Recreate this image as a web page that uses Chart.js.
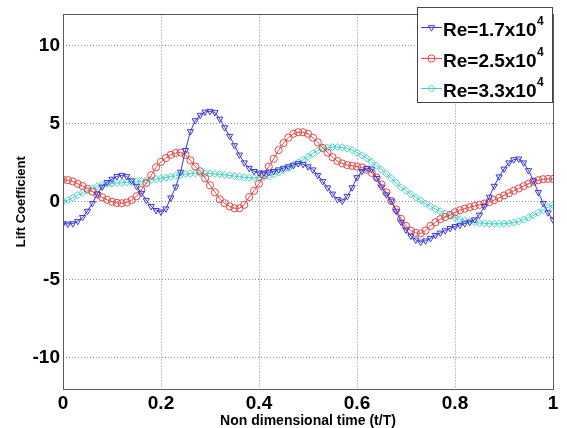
<!DOCTYPE html>
<html>
<head>
<meta charset="utf-8">
<script src="https://cdn.jsdelivr.net/npm/chart.js@4/dist/chart.umd.min.js"></script>
<style>
  html, body { margin: 0; padding: 0; background: #fff; }
  #wrap { width: 567px; height: 428px; }
</style>
</head>
<body>
<div id="wrap"><canvas id="liftChart" width="567" height="428"></canvas></div>
<script>
// non dimensional time t/T
const timeValues = [
  0.00, 0.01, 0.02, 0.03, 0.04, 0.05, 0.06, 0.07, 0.08, 0.09,
  0.10, 0.11, 0.12, 0.13, 0.14, 0.15, 0.16, 0.17, 0.18, 0.19,
  0.20, 0.21, 0.22, 0.23, 0.24, 0.25, 0.26, 0.27, 0.28, 0.29,
  0.30, 0.31, 0.32, 0.33, 0.34, 0.35, 0.36, 0.37, 0.38, 0.39,
  0.40, 0.41, 0.42, 0.43, 0.44, 0.45, 0.46, 0.47, 0.48, 0.49,
  0.50, 0.51, 0.52, 0.53, 0.54, 0.55, 0.56, 0.57, 0.58, 0.59,
  0.60, 0.61, 0.62, 0.63, 0.64, 0.65, 0.66, 0.67, 0.68, 0.69,
  0.70, 0.71, 0.72, 0.73, 0.74, 0.75, 0.76, 0.77, 0.78, 0.79,
  0.80, 0.81, 0.82, 0.83, 0.84, 0.85, 0.86, 0.87, 0.88, 0.89,
  0.90, 0.91, 0.92, 0.93, 0.94, 0.95, 0.96, 0.97, 0.98, 0.99,
  1.00
];

// lift coefficient, Re = 1.7x10^4
const liftRe17 = [
  -1.40, -1.42, -1.40, -1.25, -1.00, -0.60, -0.10, 0.50, 0.95, 1.25,
  1.45, 1.62, 1.70, 1.62, 1.35, 1.00, 0.55, 0.10, -0.30, -0.55,
  -0.65, -0.45, 0.25, 0.95, 1.90, 3.30, 4.50, 5.20, 5.55, 5.75,
  5.80, 5.72, 5.30, 4.75, 4.20, 3.60, 3.00, 2.50, 2.15, 1.95,
  1.85, 1.85, 1.90, 1.95, 2.05, 2.15, 2.25, 2.35, 2.45, 2.40,
  2.25, 2.05, 1.70, 1.30, 0.90, 0.50, 0.15, 0.05, 0.35, 0.90,
  1.55, 1.95, 2.15, 2.10, 1.50, 0.95, 0.45, 0.05, -0.60, -1.30,
  -1.80, -2.20, -2.45, -2.58, -2.50, -2.35, -2.15, -2.00, -1.85, -1.70,
  -1.58, -1.50, -1.40, -1.30, -1.15, -0.85, -0.30, 0.30, 1.00, 1.60,
  2.10, 2.50, 2.70, 2.75, 2.50, 2.00, 1.35, 0.60, -0.10, -0.70,
  -1.15
];

// lift coefficient, Re = 2.5x10^4
const liftRe25 = [
  1.40, 1.38, 1.30, 1.15, 1.00, 0.83, 0.65, 0.45, 0.28, 0.12,
  0.00, -0.08, -0.10, -0.05, 0.10, 0.35, 0.75, 1.20, 1.70, 2.20,
  2.55, 2.80, 3.00, 3.12, 3.15, 3.00, 2.65, 2.25, 1.95, 1.50,
  1.05, 0.60, 0.15, -0.10, -0.30, -0.42, -0.42, -0.20, 0.30, 0.70,
  1.15, 1.70, 2.25, 2.75, 3.30, 3.75, 4.10, 4.35, 4.45, 4.45,
  4.35, 4.10, 3.80, 3.45, 3.15, 2.85, 2.60, 2.45, 2.35, 2.30,
  2.25, 2.20, 2.05, 1.85, 1.55, 1.10, 0.60, 0.05, -0.50, -1.10,
  -1.55, -1.85, -2.00, -2.03, -1.85, -1.55, -1.32, -1.12, -0.98, -0.85,
  -0.68, -0.55, -0.45, -0.35, -0.28, -0.20, -0.12, -0.02, 0.10, 0.25,
  0.40, 0.55, 0.70, 0.85, 1.00, 1.15, 1.28, 1.38, 1.44, 1.46,
  1.46
];

// lift coefficient, Re = 3.3x10^4
const liftRe33 = [
  0.00, 0.10, 0.25, 0.42, 0.58, 0.72, 0.85, 0.97, 1.07, 1.13,
  1.17, 1.20, 1.22, 1.24, 1.26, 1.28, 1.31, 1.35, 1.40, 1.45,
  1.50, 1.55, 1.60, 1.66, 1.72, 1.77, 1.80, 1.82, 1.83, 1.82,
  1.80, 1.78, 1.76, 1.72, 1.68, 1.64, 1.60, 1.56, 1.53, 1.52,
  1.53, 1.57, 1.65, 1.75, 1.88, 2.02, 2.16, 2.32, 2.50, 2.68,
  2.88, 3.10, 3.28, 3.40, 3.46, 3.50, 3.50, 3.47, 3.40, 3.30,
  3.15, 2.98, 2.78, 2.55, 2.30, 2.05, 1.78, 1.50, 1.20, 0.92,
  0.70, 0.48, 0.28, 0.08, -0.12, -0.30, -0.46, -0.62, -0.76, -0.90,
  -1.02, -1.12, -1.20, -1.27, -1.32, -1.36, -1.39, -1.41, -1.42, -1.42,
  -1.41, -1.38, -1.33, -1.26, -1.15, -1.02, -0.87, -0.70, -0.52, -0.35,
  -0.20
];

const seriesNames = ['Re=1.7x10', 'Re=2.5x10', 'Re=3.3x10'];
const seriesExponent = '4';
const xTicks = [0, 0.2, 0.4, 0.6, 0.8, 1];
const yTicks = [-10, -5, 0, 5, 10];

const FONT = "'Liberation Sans', Arial, sans-serif";
const colors = ['#3a3ad4', '#e04848', '#46cfc6'];
const pointStyles = ['triangle', 'circle', 'rectRot'];
const pointRotations = [180, 0, 0];

function makeSeries(values) {
  return values.map((v, i) => ({ x: timeValues[i], y: v }));
}

const seriesValues = [liftRe17, liftRe25, liftRe33];

const datasets = seriesValues.map((vals, i) => ({
  label: seriesNames[i] + seriesExponent,
  data: makeSeries(vals),
  borderColor: colors[i],
  backgroundColor: 'rgba(0,0,0,0)',
  borderWidth: 1,
  pointStyle: pointStyles[i],
  pointRotation: pointRotations[i],
  pointRadius: 3.6,
  pointBorderWidth: 1,
  pointBorderColor: colors[i],
  pointBackgroundColor: 'rgba(0,0,0,0)',
  tension: 0
}));

// box round the plot and the matlab style legend
const framePlugin = {
  id: 'frameAndLegend',
  afterDraw(chart) {
    const ctx = chart.ctx;
    const a = chart.chartArea;
    ctx.save();
    ctx.strokeStyle = '#5a5a5a';
    ctx.lineWidth = 1;
    ctx.strokeRect(Math.round(a.left) + 0.5, Math.round(a.top) + 0.5,
      Math.round(a.right - a.left), Math.round(a.bottom - a.top));

    // legend
    const bx = 417.5, by = 7.5, bw = 135, bh = 95;
    ctx.fillStyle = '#fff';
    ctx.fillRect(bx, by, bw, bh);
    ctx.strokeStyle = '#444';
    ctx.strokeRect(bx, by, bw, bh);

    const rowY = [27, 58, 88];
    seriesNames.forEach((name, i) => {
      const y = rowY[i];
      ctx.strokeStyle = colors[i];
      ctx.lineWidth = 1;
      ctx.beginPath();
      ctx.moveTo(421, y + 0.5);
      ctx.lineTo(442, y + 0.5);
      ctx.stroke();
      ctx.fillStyle = 'rgba(0,0,0,0)';
      Chart.helpers.drawPoint(ctx, {
        pointStyle: pointStyles[i],
        radius: 3.6,
        rotation: pointRotations[i],
        borderWidth: 1
      }, 431.5, y + 0.5);

      ctx.fillStyle = '#000';
      ctx.textBaseline = 'alphabetic';
      ctx.textAlign = 'left';
      ctx.font = 'bold 19px ' + FONT;
      ctx.fillText(name, 443, y + 9);
      const w = ctx.measureText(name).width;
      ctx.font = 'bold 12px ' + FONT;
      ctx.fillText(seriesExponent, 443 + w + 0.5, y - 2);
    });
    ctx.restore();
  }
};

const ctx = document.getElementById('liftChart').getContext('2d');
new Chart(ctx, {
  type: 'line',
  data: { datasets: datasets },
  options: {
    responsive: false,
    animation: false,
    layout: { padding: { top: 4, right: 14, left: 0, bottom: 0 } },
    plugins: {
      legend: { display: false },
      tooltip: { enabled: false }
    },
    scales: {
      x: {
        type: 'linear',
        min: 0,
        max: 1,
        afterFit: s => { s.height = 39; },
        afterBuildTicks: s => { s.ticks = xTicks.map(v => ({ value: v })); },
        ticks: {
          color: '#000',
          padding: 3,
          maxRotation: 0,
          font: { family: FONT, size: 19, weight: 'bold' },
          callback: v => String(v)
        },
        grid: { color: '#8a8a8a', lineWidth: 1, drawTicks: false },
        border: { display: false, dash: [1, 2] },
        title: {
          display: true,
          text: 'Non dimensional time (t/T)',
          color: '#000',
          font: { family: FONT, size: 14, weight: 'bold' },
          padding: { top: 0, bottom: -2 }
        }
      },
      y: {
        type: 'linear',
        min: -12,
        max: 12,
        afterFit: s => { s.width = 63; },
        afterBuildTicks: s => { s.ticks = yTicks.map(v => ({ value: v })); },
        ticks: {
          color: '#000',
          padding: 3,
          font: { family: FONT, size: 19, weight: 'bold' },
          callback: v => String(v)
        },
        grid: { color: '#8a8a8a', lineWidth: 1, drawTicks: false },
        border: { display: false, dash: [1, 2] },
        title: {
          display: true,
          text: 'Lift Coefficient',
          color: '#000',
          font: { family: FONT, size: 13, weight: 'bold' },
          padding: { top: 14, bottom: 0 }
        }
      }
    }
  },
  plugins: [framePlugin]
});
</script>
</body>
</html>
